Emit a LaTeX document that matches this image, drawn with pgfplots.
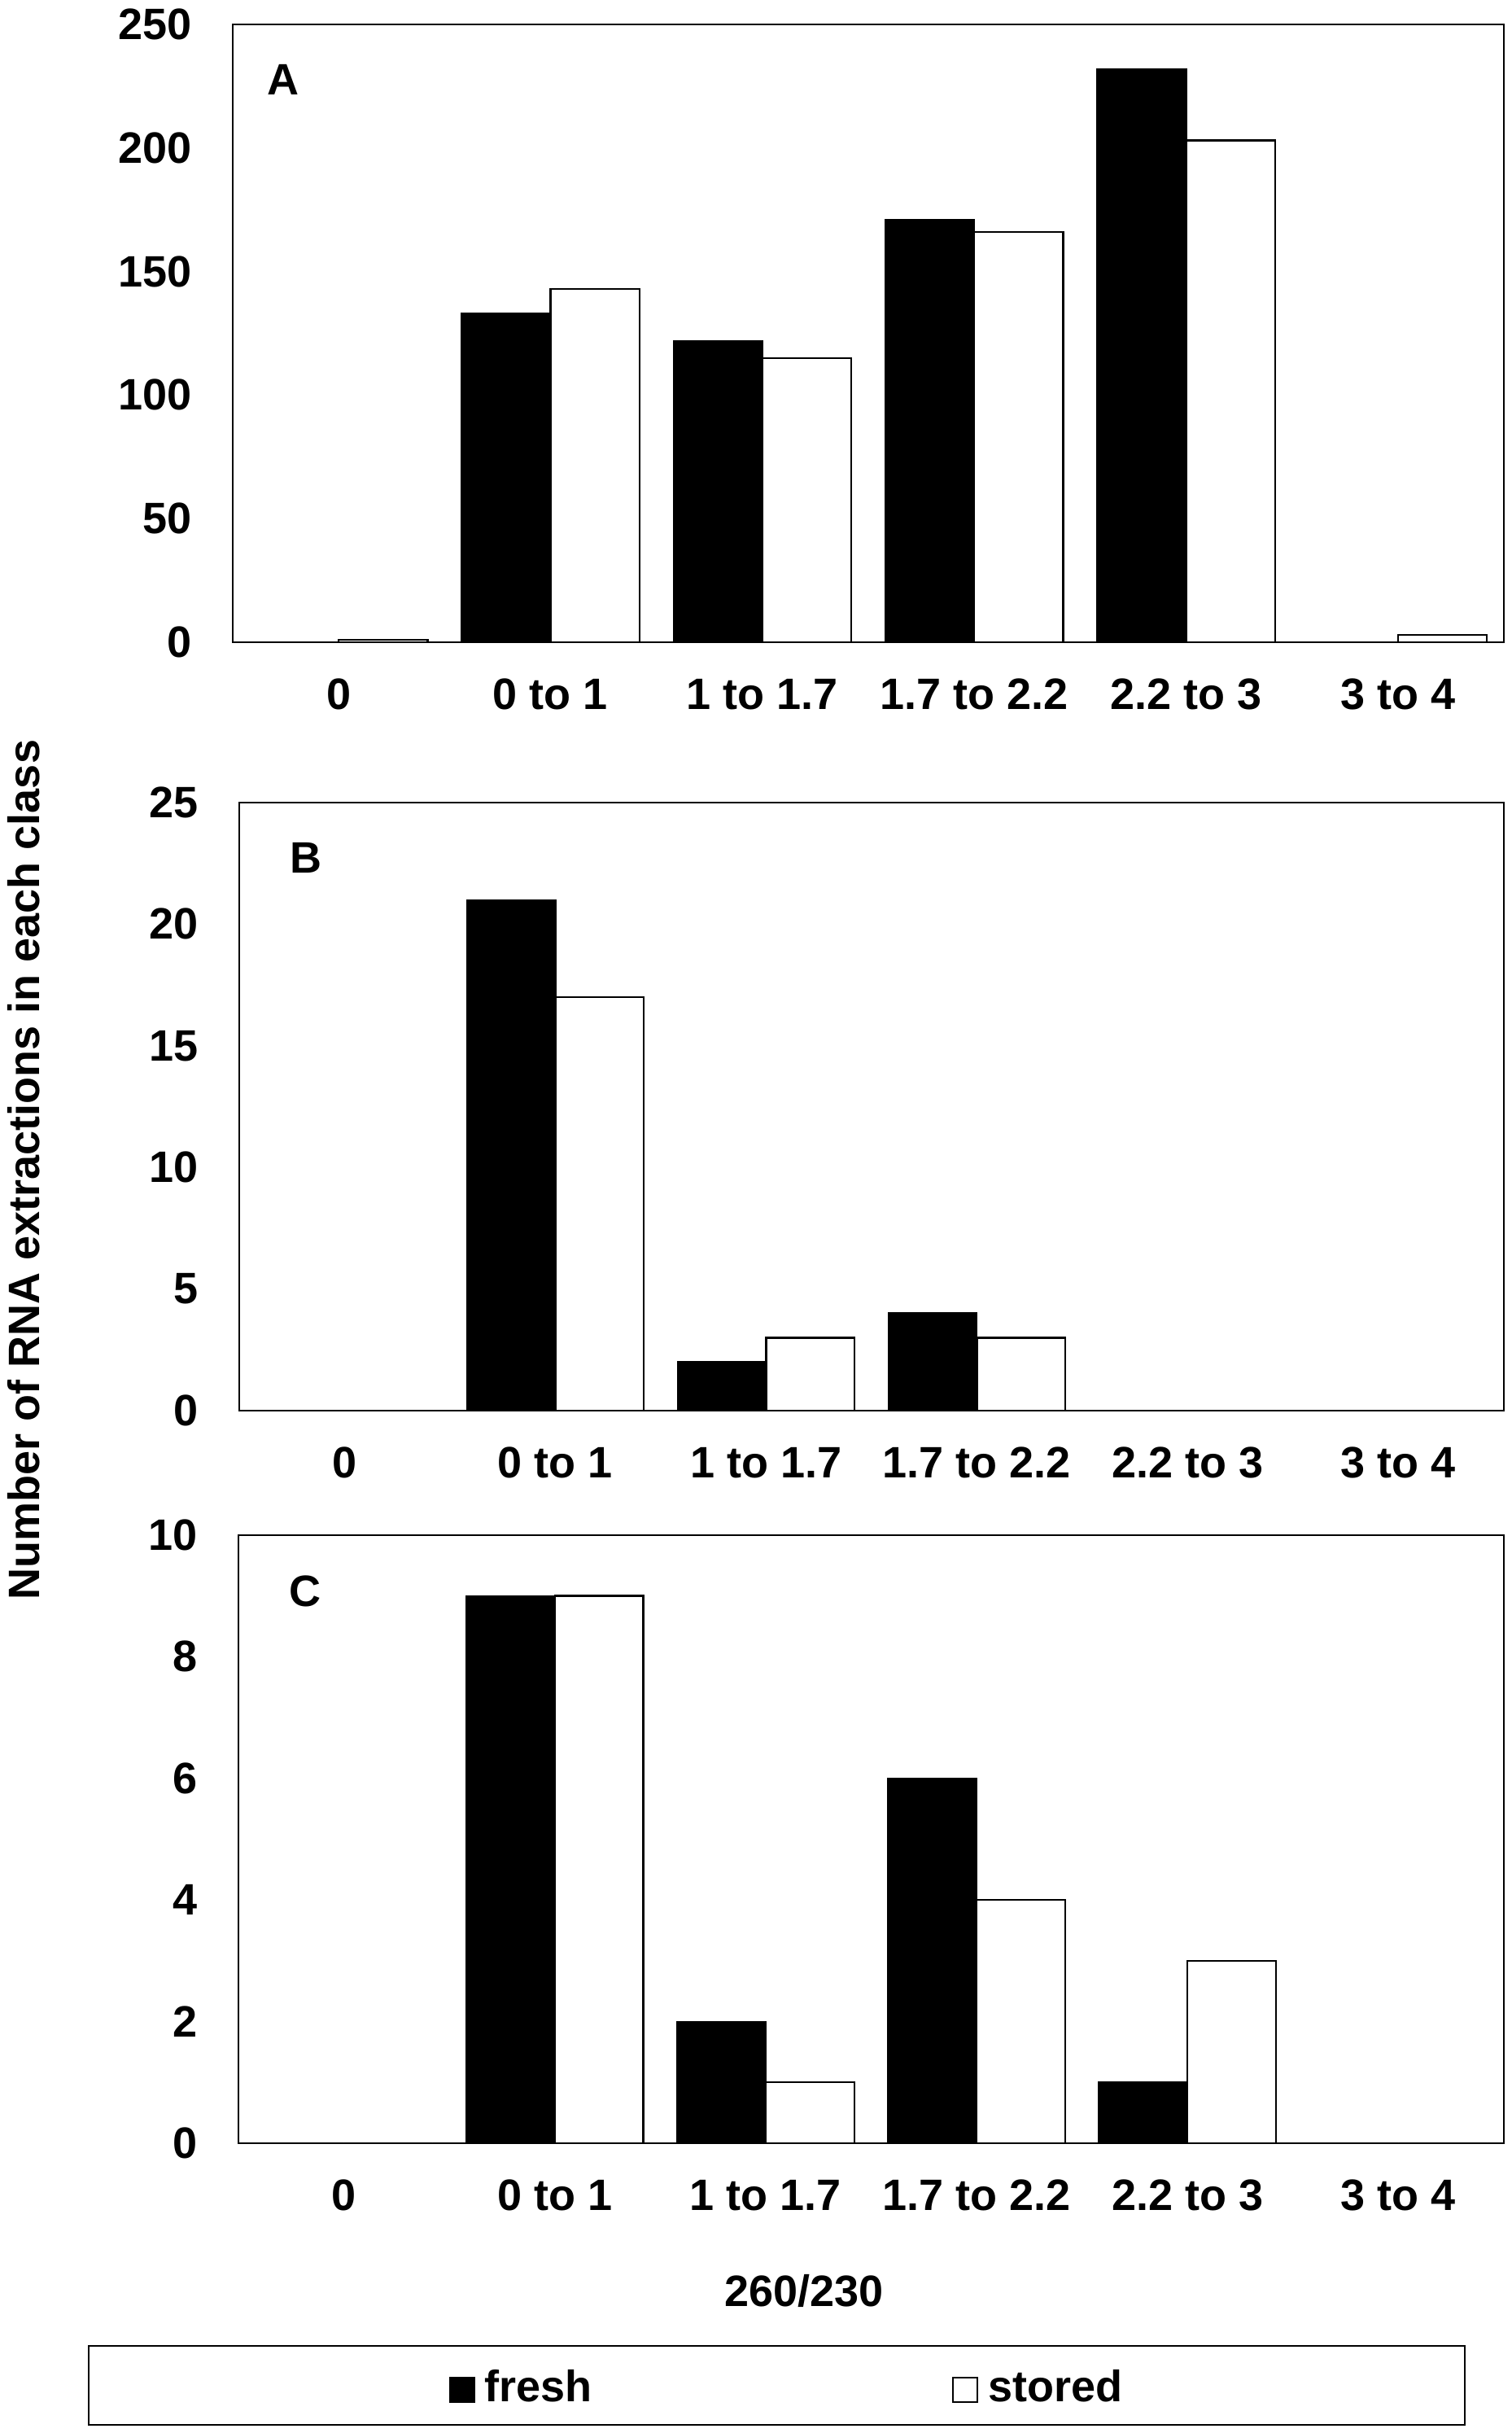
\documentclass[border=0pt]{standalone}
\usepackage{fontspec}
\setmainfont{Liberation Sans}
\usepackage{pgfplots}
\pgfplotsset{compat=1.18}

\pgfplotsset{
  panel/.style={
    scale only axis, anchor=south west,
    xmin=-0.5, xmax=5.5, ymin=0,
    xtick={0,1,2,3,4,5},
    xticklabels={0,0 to 1,1 to 1.7,1.7 to 2.2,2.2 to 3,3 to 4},
    major tick length=0pt,
    axis line style={line width=0.7pt},
    /pgf/number format/assume math mode=true,
    yticklabel style={anchor=east, inner sep=0pt, xshift=-12.5pt},
    xticklabel style={anchor=center, inner sep=0pt, yshift=-16pt},
  },
  sqlegend/.style={legend image code/.code={\draw[##1] (0pt,-4.3pt) rectangle (7.5pt,3.2pt);}},
  fresh/.style={ybar, bar width=0.42, bar shift=-0.21, fill=black, draw=black, line width=0.5pt, sqlegend},
  stored/.style={ybar, bar width=0.42, bar shift=0.21, fill=white, draw=black, line width=0.6pt, sqlegend},
}

\begin{document}
\begin{tikzpicture}[font=\fontsize{13.5}{16}\selectfont\bfseries]
\useasboundingbox (0,0) rectangle (464.25pt,747.25pt);

% Panel A
\begin{axis}[panel, at={(71.5pt,550pt)}, width=390.5pt, height=189.75pt,
  ymax=250, ytick={0,50,100,150,200,250}]
  \addplot[fresh] coordinates {(0,0) (1,133) (2,122) (3,171) (4,232) (5,0)};
  \addplot[stored] coordinates {(0,1) (1,143) (2,115) (3,166) (4,203) (5,3)};
  \node[anchor=north west, inner sep=0pt, xshift=10.5pt, yshift=-12.25pt] at (rel axis cs:0,1) {A};
\end{axis}

% Panel B
\begin{axis}[panel, at={(73.5pt,314pt)}, width=388.5pt, height=186.75pt,
  ymax=25, ytick={0,5,10,15,20,25}]
  \addplot[fresh] coordinates {(0,0) (1,21) (2,2) (3,4) (4,0) (5,0)};
  \addplot[stored] coordinates {(0,0) (1,17) (2,3) (3,3) (4,0) (5,0)};
  \node[anchor=north west, inner sep=0pt, xshift=15.5pt, yshift=-12.25pt] at (rel axis cs:0,1) {B};
\end{axis}

% Panel C
\begin{axis}[panel, at={(73.25pt,89pt)}, width=388.75pt, height=186.75pt,
  ymax=10, ytick={0,2,4,6,8,10},
  legend columns=2,
  legend style={at={(rel axis cs:0.1659,-0.4027)}, anchor=west, draw=none, fill=none,
    inner sep=0pt, nodes={inner sep=0pt},
    /tikz/every odd column/.append style={column sep=3pt},
    /tikz/every even column/.append style={column sep=110.5pt}},
  ]
  \addplot[fresh] coordinates {(0,0) (1,9) (2,2) (3,6) (4,1) (5,0)};
  \addplot[stored] coordinates {(0,0) (1,9) (2,1) (3,4) (4,3) (5,0)};
  \legend{fresh,stored}
  \node[anchor=north west, inner sep=0pt, xshift=15.5pt, yshift=-12.25pt] at (rel axis cs:0,1) {C};
\end{axis}

% axis titles and legend frame
\node[rotate=90, inner sep=0pt] at (7.25pt,388pt) {Number of RNA extractions in each class};
\node[inner sep=0pt] at (247pt,43.75pt) {260/230};
\draw[line width=0.7pt] (27.25pt,2.5pt) rectangle (450pt,26.75pt);
\end{tikzpicture}
\end{document}
